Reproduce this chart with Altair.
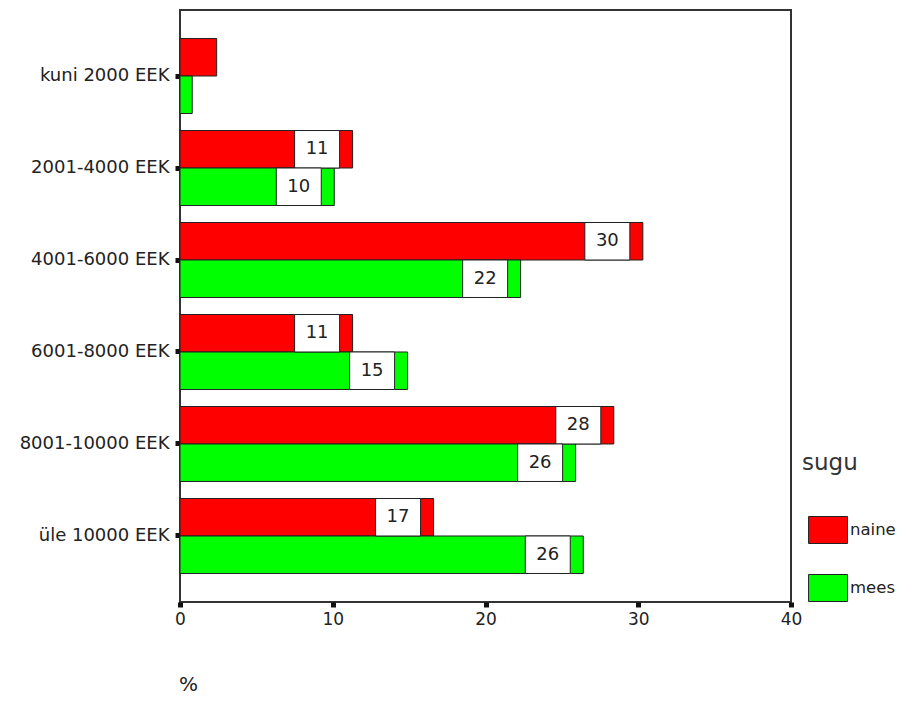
import altair as alt
import pandas as pd

categories = ["kuni 2000 EEK", "2001-4000 EEK", "4001-6000 EEK",
              "6001-8000 EEK", "8001-10000 EEK", "üle 10000 EEK"]
naine = [2.4, 11.3, 30.3, 11.3, 28.4, 16.6]
mees = [0.8, 10.1, 22.3, 14.9, 25.9, 26.4]
groups = ["naine", "mees"]
colors = ["#FF0000", "#00FF00"]
x_ticks = [0, 10, 20, 30, 40]

rows = []
for c, n, m in zip(categories, naine, mees):
    rows.append({"sissetulek": c, "sugu": "naine", "value": n})
    rows.append({"sissetulek": c, "sugu": "mees", "value": m})
df = pd.DataFrame(rows)

FONT = "DejaVu Sans"

y_enc = alt.Y("sissetulek:N", sort=categories,
              scale=alt.Scale(paddingInner=0.185, paddingOuter=0.31),
              axis=alt.Axis(title=None, labelFont=FONT, labelFontSize=18,
                            labelColor="#222222", tickSize=5, tickWidth=5,
                            tickColor="#111111", labelPadding=6, domain=False,
                            grid=False))
yoff = alt.YOffset("sugu:N", scale=alt.Scale(domain=groups, paddingInner=0, paddingOuter=0))
x_scale = alt.Scale(domain=[0, 40], nice=False, zero=True)

bars = alt.Chart(df).mark_bar(stroke="#222222", strokeWidth=1).encode(
    x=alt.X("value:Q", scale=x_scale,
            axis=alt.Axis(title="%", values=x_ticks, labelFont=FONT, labelFontSize=17,
                          labelColor="#222222", tickSize=5, tickWidth=5,
                          tickColor="#111111", labelPadding=4, labelFlush=False,
                          domain=False, grid=False,
                          titleFont=FONT, titleFontSize=20, titleFontWeight="normal",
                          titleColor="#222222", titleX=8, titleY=72,
                          titleAlign="center", titleBaseline="top")),
    y=y_enc,
    yOffset=yoff,
    color=alt.Color("sugu:N", scale=alt.Scale(domain=groups, range=colors),
                    legend=alt.Legend(title="sugu", orient="none", legendX=622, legendY=442,
                                      titleFont=FONT, titleFontSize=23, titleFontWeight="normal",
                                      titleColor="#333333", titlePadding=32,
                                      labelFont=FONT, labelFontSize=16.5, labelColor="#222222",
                                      labelOffset=2,
                                      symbolType="M-0.73,-0.6H1V0.6H-0.73Z",
                                      symbolSize=2025, symbolStrokeColor="#222222",
                                      symbolStrokeWidth=1, symbolOpacity=1,
                                      rowPadding=19)),
)

lab = alt.Chart(df).transform_filter(alt.datum.value >= 5)

boxes = lab.mark_bar(fill="white", stroke="#222222", strokeWidth=1,
                     xOffset=-58, x2Offset=-13).encode(
    x=alt.X("value:Q", scale=x_scale),
    x2="value:Q",
    y=alt.Y("sissetulek:N", sort=categories),
    yOffset=yoff,
)

texts = lab.mark_text(font=FONT, fontSize=18, color="#222222", align="center",
                      baseline="middle", xOffset=-35.5).encode(
    x=alt.X("value:Q", scale=x_scale),
    y=alt.Y("sissetulek:N", sort=categories),
    yOffset=yoff,
    text=alt.Text("value:Q", format=".0f"),
)

chart = alt.layer(bars, boxes, texts).properties(
    width=611, height=592,
    background="white",
    autosize=alt.AutoSizeParams(type="none"),
    padding={"left": 172, "top": 2, "right": 104, "bottom": 92},
).configure_view(stroke="#333333", strokeWidth=2)

chart.save("out.html", embed_options={"renderer": "svg", "actions": False})
